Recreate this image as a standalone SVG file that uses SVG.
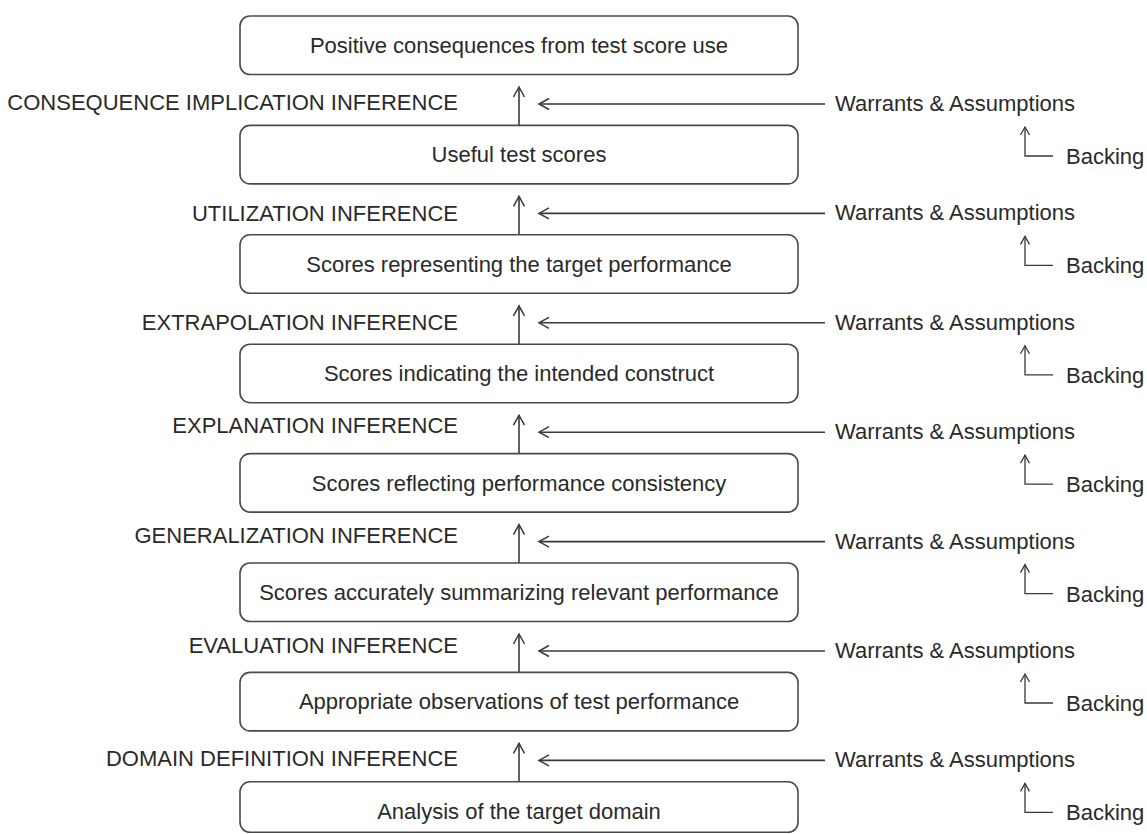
<svg xmlns="http://www.w3.org/2000/svg" width="1147" height="834" viewBox="0 0 1147 834">
<style>
text{font-family:"Liberation Sans",Arial,Helvetica,sans-serif;font-size:22px;fill:#2a2a2a}
.box{fill:#fff;stroke:#4a4a4a;stroke-width:1.6}
.c{text-anchor:middle}
.e{text-anchor:end}
.ln{fill:none;stroke:#3a3a3a;stroke-width:1.6}
.ln2{fill:none;stroke:#3a3a3a;stroke-width:1.3}
</style>
<defs>
<marker id="ah" markerUnits="userSpaceOnUse" markerWidth="14" markerHeight="14" viewBox="-12 -7 14 14" refX="0" refY="0" orient="auto">
<path d="M-10,-5.5 L0,0 L-10,5.5" fill="none" stroke="#3a3a3a" stroke-width="1.5"/>
</marker>
<marker id="ahs" markerUnits="userSpaceOnUse" markerWidth="12" markerHeight="12" viewBox="-10 -6 12 12" refX="0" refY="0" orient="auto">
<path d="M-8,-4.5 L0,0 L-8,4.5" fill="none" stroke="#3a3a3a" stroke-width="1.3"/>
</marker>
</defs>
<rect width="1147" height="834" fill="#fff"/>

<g id="connectors">
<line class="ln" x1="519" y1="125.4" x2="519" y2="87" marker-end="url(#ah)"/>
<line class="ln" x1="519" y1="234.8" x2="519" y2="196.4" marker-end="url(#ah)"/>
<line class="ln" x1="519" y1="344.2" x2="519" y2="305.8" marker-end="url(#ah)"/>
<line class="ln" x1="519" y1="453.6" x2="519" y2="415.2" marker-end="url(#ah)"/>
<line class="ln" x1="519" y1="563" x2="519" y2="524.6" marker-end="url(#ah)"/>
<line class="ln" x1="519" y1="672.4" x2="519" y2="634" marker-end="url(#ah)"/>
<line class="ln" x1="519" y1="781.8" x2="519" y2="743.4" marker-end="url(#ah)"/>

<line class="ln" x1="825" y1="104" x2="539" y2="104" marker-end="url(#ah)"/>
<line class="ln" x1="825" y1="213.4" x2="539" y2="213.4" marker-end="url(#ah)"/>
<line class="ln" x1="825" y1="322.8" x2="539" y2="322.8" marker-end="url(#ah)"/>
<line class="ln" x1="825" y1="432.2" x2="539" y2="432.2" marker-end="url(#ah)"/>
<line class="ln" x1="825" y1="541.6" x2="539" y2="541.6" marker-end="url(#ah)"/>
<line class="ln" x1="825" y1="651" x2="539" y2="651" marker-end="url(#ah)"/>
<line class="ln" x1="825" y1="760.4" x2="539" y2="760.4" marker-end="url(#ah)"/>

<polyline class="ln2" points="1053,156 1025,156 1025,127" marker-end="url(#ahs)"/>
<polyline class="ln2" points="1053,265.4 1025,265.4 1025,236.4" marker-end="url(#ahs)"/>
<polyline class="ln2" points="1053,374.8 1025,374.8 1025,345.8" marker-end="url(#ahs)"/>
<polyline class="ln2" points="1053,484.2 1025,484.2 1025,455.2" marker-end="url(#ahs)"/>
<polyline class="ln2" points="1053,593.6 1025,593.6 1025,564.6" marker-end="url(#ahs)"/>
<polyline class="ln2" points="1053,703 1025,703 1025,674" marker-end="url(#ahs)"/>
<polyline class="ln2" points="1053,812.4 1025,812.4 1025,783.4" marker-end="url(#ahs)"/>
</g>

<g id="node-consequences"><rect class="box" x="240" y="16" width="558" height="58.5" rx="10"/><text class="c" x="519" y="53">Positive consequences from test score use</text></g>
<g id="node-useful"><rect class="box" x="240" y="125.4" width="558" height="58.5" rx="10"/><text class="c" x="519" y="162.4">Useful test scores</text></g>
<g id="node-target-performance"><rect class="box" x="240" y="234.8" width="558" height="58.5" rx="10"/><text class="c" x="519" y="271.8">Scores representing the target performance</text></g>
<g id="node-construct"><rect class="box" x="240" y="344.2" width="558" height="58.5" rx="10"/><text class="c" x="519" y="381.2">Scores indicating the intended construct</text></g>
<g id="node-consistency"><rect class="box" x="240" y="453.6" width="558" height="58.5" rx="10"/><text class="c" x="519" y="490.6">Scores reflecting performance consistency</text></g>
<g id="node-summarizing"><rect class="box" x="240" y="563" width="558" height="58.5" rx="10"/><text class="c" x="519" y="600">Scores accurately summarizing relevant performance</text></g>
<g id="node-observations"><rect class="box" x="240" y="672.4" width="558" height="58.5" rx="10"/><text class="c" x="519" y="709.4">Appropriate observations of test performance</text></g>
<g id="node-domain"><rect class="box" x="240" y="781.8" width="558" height="50.5" rx="10"/><text class="c" x="519" y="818.8">Analysis of the target domain</text></g>

<g id="inference-labels">
<text class="e" x="458" y="110">CONSEQUENCE IMPLICATION INFERENCE</text>
<text class="e" x="458" y="221">UTILIZATION INFERENCE</text>
<text class="e" x="458" y="330">EXTRAPOLATION INFERENCE</text>
<text class="e" x="458" y="433">EXPLANATION INFERENCE</text>
<text class="e" x="458" y="543">GENERALIZATION INFERENCE</text>
<text class="e" x="458" y="653">EVALUATION INFERENCE</text>
<text class="e" x="458" y="766">DOMAIN DEFINITION INFERENCE</text>
</g>

<g id="warrants">
<text x="835" y="111">Warrants &amp; Assumptions</text>
<text x="835" y="220.4">Warrants &amp; Assumptions</text>
<text x="835" y="329.8">Warrants &amp; Assumptions</text>
<text x="835" y="439.2">Warrants &amp; Assumptions</text>
<text x="835" y="548.6">Warrants &amp; Assumptions</text>
<text x="835" y="658">Warrants &amp; Assumptions</text>
<text x="835" y="767.4">Warrants &amp; Assumptions</text>
</g>

<g id="backing">
<text x="1066" y="164">Backing</text>
<text x="1066" y="273.4">Backing</text>
<text x="1066" y="382.8">Backing</text>
<text x="1066" y="492.2">Backing</text>
<text x="1066" y="601.6">Backing</text>
<text x="1066" y="711">Backing</text>
<text x="1066" y="820.4">Backing</text>
</g>
</svg>
